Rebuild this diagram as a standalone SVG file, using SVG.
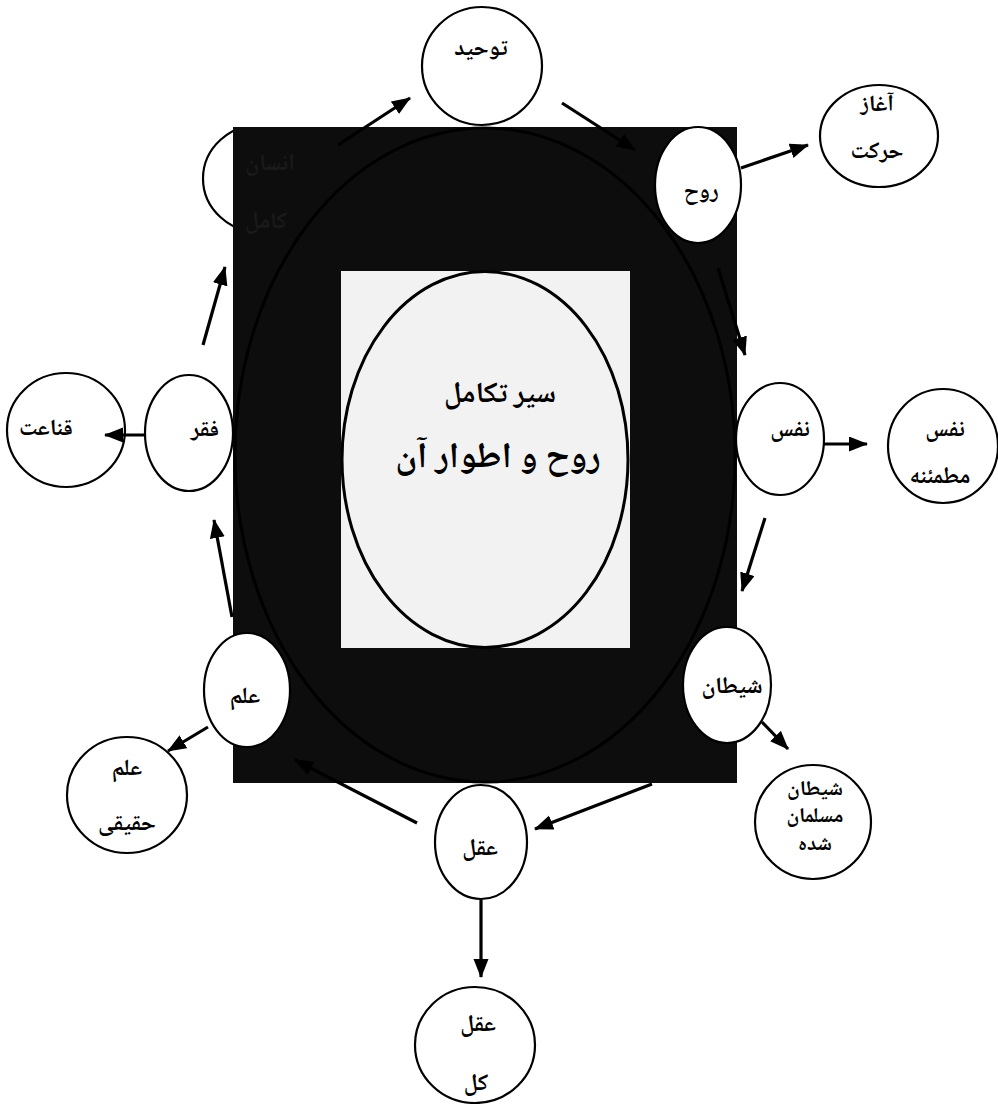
<svg xmlns="http://www.w3.org/2000/svg" width="998" height="1104" viewBox="0 0 998 1104">
<style>
.node{fill:#fff;stroke:#000;stroke-width:2.2}
.lbl{font-family:"Noto Naskh Arabic","Noto Sans Arabic","DejaVu Sans",sans-serif;font-weight:bold;font-size:23px;fill:#000;text-anchor:middle}
.dim{fill:#1a1a1a}
.con{stroke:#000;stroke-width:3.2;fill:none;marker-end:url(#ah)}
</style>
<defs>
<marker id="ah" markerUnits="userSpaceOnUse" markerWidth="20" markerHeight="16" refX="18" refY="7.5" orient="auto">
<path d="M0,0 L19,7.5 L0,15 z" fill="#000"/>
</marker>
<clipPath id="outside"><rect x="0" y="0" width="233" height="400"/></clipPath>
</defs>
<rect width="998" height="1104" fill="#fff"/>
<g id="background">
<rect x="233" y="127" width="504" height="656" fill="#0d0d0d"/>
<ellipse cx="485" cy="455" rx="250" ry="327" fill="none" stroke="#000" stroke-width="3"/>
<rect x="341" y="271" width="289" height="377" fill="#f2f2f2"/>
</g>
<g id="center">
<ellipse cx="485" cy="459.5" rx="143" ry="188" fill="none" stroke="#000" stroke-width="3"/>
<text class="lbl" x="500" y="402" style="font-size:29px">سیر تکامل</text>
<text class="lbl" x="498" y="467" style="font-size:36px">روح و اطوار آن</text>
</g>
<g id="n-tawhid">
<ellipse class="node" cx="482" cy="66" rx="60" ry="59"/>
<text class="lbl" x="481" y="55">توحید</text>
</g>
<g id="n-insan">
<ellipse class="node" cx="262" cy="178.5" rx="59" ry="54.5" clip-path="url(#outside)"/>
<text class="lbl dim" x="270" y="170">انسان</text>
<text class="lbl dim" x="266" y="228">کامل</text>
</g>
<g id="n-ruh">
<ellipse class="node" cx="698" cy="185" rx="43" ry="58"/>
<text class="lbl" x="701" y="198">روح</text>
</g>
<g id="n-aghaz">
<ellipse class="node" cx="879" cy="136" rx="59" ry="51"/>
<text class="lbl" x="877" y="111">آغاز</text>
<text class="lbl" x="877" y="158">حرکت</text>
</g>
<g id="n-nafs">
<ellipse class="node" cx="780" cy="439" rx="44" ry="56"/>
<text class="lbl" x="790" y="436">نفس</text>
</g>
<g id="n-motmaenne">
<ellipse class="node" cx="943" cy="446" rx="55" ry="57"/>
<text class="lbl" x="945" y="436">نفس</text>
<text class="lbl" x="940" y="483">مطمئنه</text>
</g>
<g id="n-shaytan">
<ellipse class="node" cx="727" cy="685" rx="44" ry="58"/>
<text class="lbl" x="732" y="693">شیطان</text>
</g>
<g id="n-shaytan-moslem">
<ellipse class="node" cx="813" cy="822" rx="58" ry="57"/>
<text class="lbl" x="815" y="795" style="font-size:21px">شیطان</text>
<text class="lbl" x="815" y="822" style="font-size:21px">مسلمان</text>
<text class="lbl" x="815" y="850" style="font-size:21px">شده</text>
</g>
<g id="n-aql">
<ellipse class="node" cx="481" cy="842" rx="46" ry="57"/>
<text class="lbl" x="480" y="855">عقل</text>
</g>
<g id="n-aql-kol">
<ellipse class="node" cx="475" cy="1045" rx="60" ry="58"/>
<text class="lbl" x="478" y="1031">عقل</text>
<text class="lbl" x="476" y="1090">کل</text>
</g>
<g id="n-elm">
<ellipse class="node" cx="247" cy="690" rx="43" ry="57"/>
<text class="lbl" x="245" y="703">علم</text>
</g>
<g id="n-elm-haghighi">
<ellipse class="node" cx="127" cy="795" rx="60" ry="58"/>
<text class="lbl" x="127" y="775">علم</text>
<text class="lbl" x="127" y="830">حقیقی</text>
</g>
<g id="n-faghr">
<ellipse class="node" cx="189" cy="433" rx="44" ry="58"/>
<text class="lbl" x="205" y="436">فقر</text>
</g>
<g id="n-ghanaat">
<ellipse class="node" cx="66" cy="430" rx="59" ry="57"/>
<text class="lbl" x="46" y="435">قناعت</text>
</g>
<g id="connectors">
<line class="con" x1="338" y1="145" x2="410" y2="98"/>
<line class="con" x1="562" y1="103" x2="635" y2="150"/>
<line class="con" x1="741" y1="168" x2="808" y2="145"/>
<line class="con" x1="718" y1="268" x2="745" y2="355"/>
<line class="con" x1="824" y1="444" x2="867" y2="444"/>
<line class="con" x1="765" y1="518" x2="742" y2="591"/>
<line class="con" x1="762" y1="722" x2="788" y2="749"/>
<line class="con" x1="652" y1="784" x2="535" y2="829"/>
<line class="con" x1="481" y1="900" x2="481" y2="977"/>
<line class="con" x1="417" y1="823" x2="295" y2="760"/>
<line class="con" x1="208" y1="727" x2="168" y2="751"/>
<line class="con" x1="232" y1="617" x2="214" y2="520"/>
<line class="con" x1="146" y1="435" x2="105" y2="435"/>
<line class="con" x1="203" y1="345" x2="225" y2="267"/>
</g>
</svg>
